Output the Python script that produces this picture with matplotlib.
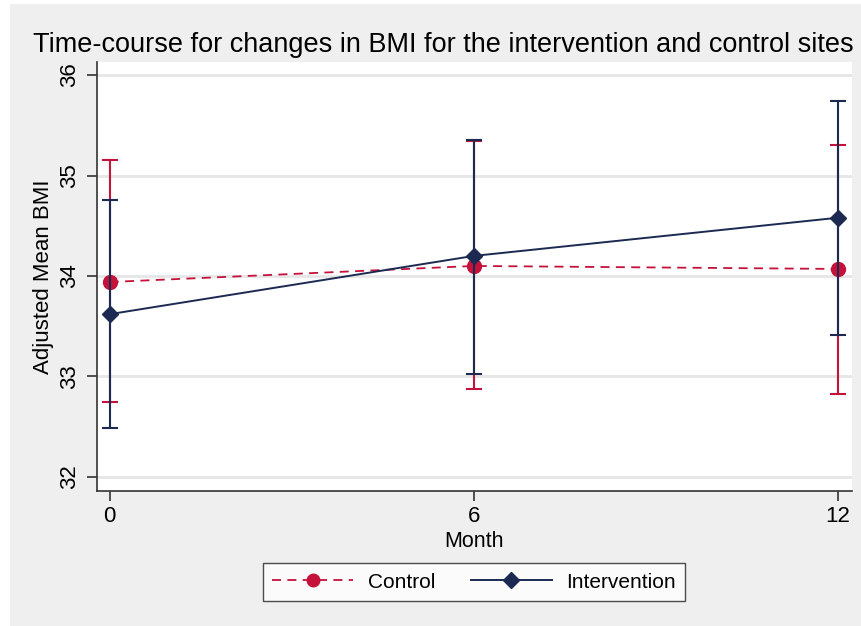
import matplotlib.pyplot as plt
import numpy as np
from matplotlib.patches import Rectangle
from matplotlib.lines import Line2D

plt.rcParams['font.family'] = ['Liberation Sans', 'DejaVu Sans']

months = [0, 6, 12]

control_mean = [33.94, 34.10, 34.07]
control_lo = [32.75, 32.88, 32.83]
control_hi = [35.15, 35.34, 35.30]

interv_mean = [33.62, 34.20, 34.58]
interv_lo = [32.49, 33.02, 33.41]
interv_hi = [34.76, 35.35, 35.74]

red = '#c4123a'
navy = '#1c2a52'
ctrl_dash = (0, (5, 3.5))

fig = plt.figure(figsize=(8.62, 6.26), dpi=100)
fig.patch.set_facecolor('#efefef')
# thin white margin along the top and left edges
fig.patches.append(Rectangle((0, 1 - 4/626), 1, 4/626, transform=fig.transFigure,
                             facecolor='white', edgecolor='none', zorder=-10))
fig.patches.append(Rectangle((0, 0), 10/862, 1, transform=fig.transFigure,
                             facecolor='white', edgecolor='none', zorder=-10))

ax = fig.add_axes([97/862, 1 - 491/626, 755/862, 429/626])
ax.set_facecolor('white')

def err(mean, lo, hi):
    mean = np.array(mean)
    return [mean - np.array(lo), np.array(hi) - mean]

ax.errorbar(months, control_mean, yerr=err(control_mean, control_lo, control_hi),
            color=red, ecolor=red, linestyle=ctrl_dash, linewidth=1.3,
            marker='o', markersize=10, capsize=5.5, elinewidth=1.5, capthick=1.5,
            zorder=3)
ax.errorbar(months, interv_mean, yerr=err(interv_mean, interv_lo, interv_hi),
            color=navy, ecolor=navy, linestyle='-', linewidth=1.4,
            marker='D', markersize=8.5, capsize=5.5, elinewidth=1.5, capthick=1.5,
            zorder=4)

ax.set_xlim(-0.21, 12.23)
ax.set_ylim(31.86, 36.13)
ax.set_xticks([0, 6, 12])
ax.set_yticks([32, 33, 34, 35, 36])
ax.yaxis.grid(True, color='#e6e6e6', linewidth=2)
ax.set_axisbelow(True)

for s in ['top', 'right']:
    ax.spines[s].set_visible(False)
for s in ['left', 'bottom']:
    ax.spines[s].set_color('#333333')
    ax.spines[s].set_linewidth(1.2)

ax.tick_params(axis='both', labelsize=16, length=7, width=1.2, color='#333333')
ax.tick_params(axis='y', pad=5)
for lab in ax.get_yticklabels():
    lab.set_rotation(90)
    lab.set_va('center')

ax.set_xlabel('Month', fontsize=15.5, labelpad=3)
ax.set_ylabel('Adjusted Mean BMI', fontsize=16, labelpad=4)

fig.text(443/862, 1 - 45/626, 'Time-course for changes in BMI for the intervention and control sites',
         ha='center', va='center', fontsize=19.5)

handles = [
    Line2D([], [], color=red, linestyle=ctrl_dash, linewidth=1.3, marker='o', markersize=9),
    Line2D([], [], color=navy, linestyle='-', linewidth=1.4, marker='D', markersize=8),
]
leg = ax.legend(handles, ['Control', 'Intervention'], loc='center',
                bbox_to_anchor=(474/862, 1 - 582/626),
                bbox_transform=fig.transFigure, ncol=2, fontsize=15,
                frameon=True, fancybox=False, handlelength=3.9,
                columnspacing=1.7, borderpad=0.45, borderaxespad=0,
                handletextpad=0.7)
leg.get_frame().set_edgecolor('#222222')
leg.get_frame().set_linewidth(1.0)

fig.savefig('out.png', dpi=100)
